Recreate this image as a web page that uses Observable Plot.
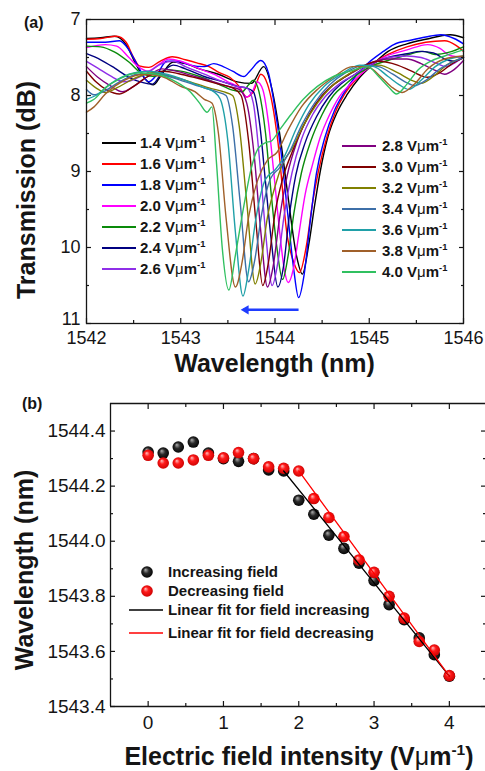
<!DOCTYPE html>
<html><head><meta charset="utf-8">
<script src="https://cdn.jsdelivr.net/npm/d3@7"></script>
<script src="https://cdn.jsdelivr.net/npm/@observablehq/plot@0.6"></script>
<style>
body{margin:0;background:#fff;}
#wrap{width:485px;height:771px;overflow:hidden;background:#fff;}
</style></head><body>
<svg width="0" height="0" style="position:absolute"><defs>
<radialGradient id="gBlack" cx="50%" cy="50%" r="55%" fx="36%" fy="30%">
<stop offset="0%" stop-color="#b0b0b0"/><stop offset="45%" stop-color="#2a2a2a"/><stop offset="100%" stop-color="#000"/></radialGradient>
<radialGradient id="gRed" cx="50%" cy="50%" r="55%" fx="36%" fy="30%">
<stop offset="0%" stop-color="#ffc0c0"/><stop offset="40%" stop-color="#ff1a1a"/><stop offset="100%" stop-color="#c80000"/></radialGradient>
</defs></svg>
<div id="wrap"></div>
<script>
// ---------- Panel (a) data: transmission spectra ----------
const fields = ["1.4","1.6","1.8","2.0","2.2","2.4","2.6","2.8","3.0","3.2","3.4","3.6","3.8","4.0"];
const colors = ["#000000","#ff0000","#0000ff","#ff00ff","#0a8a0a","#000080","#8f2fe8","#800080","#800000","#808000","#3d6fa8","#20a0a8","#a0602a","#30c060"];

const s14 = [[1542.00,7.25],[1542.15,7.24],[1542.30,7.22],[1542.42,7.33],[1542.52,7.58],[1542.62,7.78],[1542.71,7.86],[1542.80,7.72],[1542.92,7.56],[1543.05,7.58],[1543.20,7.65],[1543.40,7.72],[1543.60,7.82],[1543.75,7.84],[1543.88,7.62],[1543.97,7.93],[1544.06,8.59],[1544.13,9.25],[1544.23,10.12],[1544.29,10.35],[1544.36,9.95],[1544.42,9.45],[1544.48,9.0],[1544.56,8.55],[1544.66,8.22],[1544.77,7.98],[1544.90,7.76],[1545.05,7.58],[1545.20,7.42],[1545.40,7.32],[1545.60,7.26],[1545.86,7.2],[1546.00,7.24]];
const s16 = [[1542.00,7.26],[1542.15,7.25],[1542.32,7.22],[1542.42,7.3],[1542.50,7.5],[1542.56,7.61],[1542.66,7.63],[1542.78,7.55],[1542.91,7.49],[1543.05,7.53],[1543.17,7.57],[1543.30,7.62],[1543.41,7.70],[1543.52,7.76],[1543.62,7.88],[1543.70,8.02],[1543.77,7.95],[1543.85,7.72],[1543.92,7.85],[1543.97,8.1],[1544.03,8.6],[1544.13,9.85],[1544.20,10.2],[1544.26,10.33],[1544.33,10.0],[1544.40,9.4],[1544.46,9.0],[1544.55,8.55],[1544.64,8.22],[1544.74,7.98],[1544.88,7.76],[1545.02,7.6],[1545.20,7.46],[1545.40,7.36],[1545.60,7.3],[1545.80,7.28],[1545.92,7.34],[1546.00,7.42]];
const s18 = [[1542.00,7.3],[1542.20,7.3],[1542.35,7.28],[1542.45,7.4],[1542.55,7.62],[1542.66,7.82],[1542.75,7.72],[1542.85,7.55],[1542.98,7.55],[1543.10,7.6],[1543.25,7.62],[1543.35,7.58],[1543.45,7.62],[1543.55,7.68],[1543.67,7.75],[1543.74,7.67],[1543.85,7.54],[1543.93,7.7],[1543.99,8.1],[1544.06,8.7],[1544.13,9.5],[1544.20,10.3],[1544.25,10.66],[1544.31,10.35],[1544.37,9.7],[1544.44,9.02],[1544.53,8.55],[1544.63,8.2],[1544.73,7.97],[1544.86,7.74],[1545.00,7.56],[1545.15,7.42],[1545.26,7.33],[1545.45,7.27],[1545.60,7.23],[1545.76,7.2],[1545.90,7.25],[1546.00,7.32]];
const s20 = [[1542.00,7.37],[1542.20,7.33],[1542.32,7.35],[1542.45,7.5],[1542.55,7.62],[1542.65,7.68],[1542.76,7.6],[1542.87,7.52],[1543.00,7.55],[1543.20,7.65],[1543.35,7.72],[1543.50,7.82],[1543.62,7.9],[1543.70,8.02],[1543.76,7.95],[1543.81,7.82],[1543.87,7.92],[1543.93,8.35],[1543.99,9.05],[1544.05,9.8],[1544.10,10.3],[1544.14,10.46],[1544.20,10.25],[1544.25,9.85],[1544.32,9.3],[1544.40,8.9],[1544.48,8.55],[1544.58,8.25],[1544.68,8.02],[1544.80,7.85],[1544.95,7.68],[1545.15,7.5],[1545.40,7.4],[1545.62,7.33],[1545.75,7.38],[1545.85,7.47],[1546.00,7.5]];
const s22 = [[1542.00,7.35],[1542.15,7.36],[1542.30,7.43],[1542.45,7.56],[1542.60,7.72],[1542.72,7.75],[1542.85,7.66],[1543.00,7.68],[1543.20,7.75],[1543.40,7.85],[1543.55,7.93],[1543.65,7.95],[1543.72,7.86],[1543.77,7.8],[1543.83,7.95],[1543.90,8.5],[1543.96,9.3],[1544.02,10.0],[1544.08,10.42],[1544.14,10.1],[1544.20,9.55],[1544.28,9.02],[1544.38,8.6],[1544.50,8.25],[1544.62,8.0],[1544.75,7.85],[1544.90,7.7],[1545.05,7.6],[1545.25,7.52],[1545.42,7.46],[1545.57,7.42],[1545.70,7.46],[1545.85,7.43],[1546.00,7.36]];
const s24 = [[1542.00,7.45],[1542.15,7.53],[1542.30,7.64],[1542.45,7.76],[1542.60,7.83],[1542.70,7.85],[1542.80,7.7],[1542.92,7.6],[1543.05,7.65],[1543.25,7.75],[1543.45,7.82],[1543.60,7.88],[1543.70,7.9],[1543.77,7.95],[1543.84,8.4],[1543.90,9.15],[1543.96,9.9],[1544.03,10.52],[1544.09,10.25],[1544.15,9.6],[1544.22,9.05],[1544.32,8.62],[1544.44,8.28],[1544.57,8.02],[1544.70,7.85],[1544.85,7.72],[1545.00,7.6],[1545.20,7.5],[1545.40,7.45],[1545.55,7.42],[1545.68,7.44],[1545.80,7.52],[1545.90,7.55],[1546.00,7.5]];
const s26 = [[1542.00,7.55],[1542.12,7.64],[1542.25,7.74],[1542.40,7.82],[1542.52,7.78],[1542.65,7.7],[1542.80,7.58],[1542.92,7.55],[1543.05,7.62],[1543.25,7.72],[1543.45,7.82],[1543.60,7.88],[1543.70,7.9],[1543.77,8.1],[1543.84,8.9],[1543.90,9.8],[1543.97,10.5],[1544.03,10.2],[1544.10,9.55],[1544.18,9.02],[1544.28,8.58],[1544.40,8.25],[1544.53,8.02],[1544.68,7.85],[1544.85,7.72],[1545.00,7.6],[1545.20,7.5],[1545.40,7.48],[1545.55,7.5],[1545.70,7.57],[1545.82,7.62],[1545.92,7.56],[1546.00,7.5]];
const s28 = [[1542.00,7.62],[1542.12,7.76],[1542.25,7.87],[1542.38,7.95],[1542.50,7.88],[1542.65,7.75],[1542.80,7.65],[1542.95,7.68],[1543.15,7.75],[1543.35,7.82],[1543.50,7.88],[1543.62,7.92],[1543.70,8.1],[1543.78,8.8],[1543.85,9.8],[1543.92,10.52],[1543.98,10.25],[1544.05,9.6],[1544.13,9.05],[1544.23,8.62],[1544.36,8.26],[1544.50,8.0],[1544.66,7.82],[1544.82,7.7],[1545.00,7.58],[1545.20,7.52],[1545.40,7.52],[1545.55,7.58],[1545.70,7.67],[1545.80,7.72],[1545.90,7.66],[1546.00,7.54]];
const s30 = [[1542.00,7.68],[1542.10,7.82],[1542.22,7.93],[1542.35,7.98],[1542.50,7.88],[1542.65,7.75],[1542.82,7.68],[1543.00,7.72],[1543.20,7.78],[1543.40,7.85],[1543.55,7.9],[1543.64,8.0],[1543.72,8.6],[1543.80,9.7],[1543.87,10.5],[1543.93,10.2],[1544.00,9.55],[1544.08,9.1],[1544.18,8.75],[1544.30,8.4],[1544.44,8.1],[1544.58,7.9],[1544.75,7.75],[1544.92,7.62],[1545.10,7.55],[1545.30,7.6],[1545.45,7.68],[1545.62,7.76],[1545.75,7.7],[1545.88,7.58],[1546.00,7.5]];
const s32 = [[1542.00,7.8],[1542.10,7.9],[1542.20,7.96],[1542.32,7.9],[1542.50,7.78],[1542.70,7.7],[1542.90,7.75],[1543.10,7.82],[1543.30,7.9],[1543.45,7.95],[1543.55,8.0],[1543.62,8.4],[1543.70,9.4],[1543.79,10.48],[1543.85,10.2],[1543.92,9.6],[1544.00,9.2],[1544.08,8.9],[1544.18,8.7],[1544.30,8.4],[1544.45,8.1],[1544.60,7.88],[1544.78,7.72],[1544.95,7.62],[1545.10,7.6],[1545.30,7.7],[1545.45,7.8],[1545.55,7.84],[1545.68,7.75],[1545.82,7.6],[1546.00,7.5]];
const s34 = [[1542.00,7.92],[1542.08,7.99],[1542.18,7.95],[1542.35,7.82],[1542.55,7.72],[1542.75,7.72],[1543.00,7.8],[1543.20,7.88],[1543.38,7.95],[1543.48,8.0],[1543.55,8.4],[1543.63,9.4],[1543.72,10.45],[1543.78,10.2],[1543.86,9.55],[1543.95,9.1],[1544.05,8.95],[1544.15,8.75],[1544.28,8.4],[1544.42,8.1],[1544.58,7.86],[1544.75,7.7],[1544.95,7.6],[1545.10,7.62],[1545.25,7.72],[1545.38,7.82],[1545.48,7.87],[1545.60,7.8],[1545.75,7.65],[1545.90,7.55],[1546.00,7.5]];
const s36 = [[1542.00,8.05],[1542.10,8.0],[1542.25,7.85],[1542.45,7.72],[1542.65,7.68],[1542.85,7.72],[1543.05,7.8],[1543.25,7.9],[1543.35,7.95],[1543.42,8.05],[1543.50,8.6],[1543.58,9.8],[1543.66,10.64],[1543.72,10.3],[1543.80,9.6],[1543.90,9.1],[1544.00,8.98],[1544.10,8.8],[1544.22,8.45],[1544.36,8.12],[1544.52,7.88],[1544.70,7.72],[1544.90,7.6],[1545.05,7.62],[1545.20,7.75],[1545.32,7.86],[1545.42,7.92],[1545.55,7.8],[1545.70,7.62],[1545.85,7.52],[1546.00,7.48]];
const s38 = [[1542.00,8.22],[1542.08,8.15],[1542.20,7.98],[1542.40,7.8],[1542.60,7.72],[1542.80,7.75],[1543.00,7.88],[1543.15,7.95],[1543.25,8.05],[1543.33,8.1],[1543.40,8.5],[1543.48,9.6],[1543.58,10.52],[1543.65,10.2],[1543.72,9.6],[1543.82,9.1],[1543.92,8.85],[1544.02,8.75],[1544.14,8.45],[1544.28,8.15],[1544.45,7.92],[1544.62,7.76],[1544.82,7.62],[1544.98,7.62],[1545.12,7.75],[1545.25,7.9],[1545.35,7.96],[1545.48,7.85],[1545.62,7.65],[1545.80,7.52],[1546.00,7.48]];
const s40 = [[1542.00,8.1],[1542.08,8.05],[1542.20,7.9],[1542.35,7.78],[1542.55,7.7],[1542.75,7.72],[1542.95,7.82],[1543.10,7.95],[1543.20,8.1],[1543.28,8.22],[1543.33,8.15],[1543.38,8.9],[1543.44,10.0],[1543.51,10.56],[1543.58,10.1],[1543.67,9.45],[1543.75,8.95],[1543.82,8.7],[1543.90,8.62],[1543.96,8.6],[1544.05,8.45],[1544.17,8.25],[1544.30,8.05],[1544.45,7.88],[1544.62,7.75],[1544.80,7.68],[1544.98,7.62],[1545.10,7.75],[1545.20,7.88],[1545.29,7.98],[1545.40,7.85],[1545.52,7.66],[1545.65,7.55],[1545.80,7.48],[1546.00,7.4]];
const spectra = [s14,s16,s18,s20,s22,s24,s26,s28,s30,s32,s34,s36,s38,s40];

const xTicksA = [1542,1543,1544,1545,1546];
const xMinorA = [1542.5,1543.5,1544.5,1545.5];
const yTicksA = [7,8,9,10,11];
const yMinorA = [7.5,8.5,9.5,10.5];
const shiftArrow = [{x1: 1544.25, x2: 1543.66, y: 10.82}];

// ---------- Panel (b) data: resonance wavelength vs field ----------
const fieldB = [0,0.2,0.4,0.6,0.8,1.0,1.2,1.4,1.6,1.8,2.0,2.2,2.4,2.6,2.8,3.0,3.2,3.4,3.6,3.8,4.0];
const incWl = [1544.324,1544.32,1544.342,1544.36,1544.32,1544.30,1544.29,1544.30,1544.259,1544.255,1544.149,1544.098,1544.022,1543.974,1543.92,1543.857,1543.77,1543.715,1543.649,1543.588,1543.51];
const decWl = [1544.312,1544.284,1544.284,1544.295,1544.312,1544.303,1544.322,1544.30,1544.27,1544.265,1544.255,1544.155,1544.086,1544.017,1543.932,1543.887,1543.80,1543.721,1543.636,1543.605,1543.512];
const fitInc = [[1.8,1544.255],[4.0,1543.51]];
const fitDec = [[2.0,1544.255],[4.0,1543.51]];
const xTicksB = [0,1,2,3,4];
const xMinorB = [0.5,1.5,2.5,3.5];
const yTicksB = [1543.4,1543.6,1543.8,1544.0,1544.2,1544.4];
const yMinorB = [1543.5,1543.7,1543.9,1544.1,1544.3];

const FONT = "'Liberation Sans', Arial, Helvetica, sans-serif";
const INK = "#151515";

function tickMarks(axis, anchor, values, size) {
  const f = axis === "x" ? Plot.axisX : Plot.axisY;
  return f(values, {anchor, tickSize: -size, tickFormat: () => "", label: null, stroke: INK, strokeWidth: 1.2});
}
function rich(g, x, y, parts, size, opts = {}) {
  const t = g.append("text").attr("x", x).attr("y", y).attr("font-size", size)
    .attr("font-weight", "bold").attr("fill", INK).attr("text-anchor", opts.anchor || "start");
  if (opts.transform) t.attr("transform", opts.transform);
  if (opts.dy) t.attr("dy", opts.dy);
  let shift = 0;
  for (const p of parts) {
    const ts = t.append("tspan").text(p.t);
    if (p.normal) ts.attr("font-weight", "normal");
    if (p.sup) { ts.attr("font-size", size * 0.62).attr("dy", -size * 0.42); shift += size * 0.42; }
    else if (shift) { ts.attr("dy", shift); shift = 0; }
  }
  return t;
}

// ---------- Panel (a) ----------
const rowsA = spectra.flatMap((s, i) => s.map(([w, t]) => ({field: fields[i], w, t})));
const blue = "#1f3cff";
const chartA = Plot.plot({
  width: 485, height: 380,
  marginTop: 19, marginLeft: 86, marginRight: 22, marginBottom: 57,
  style: {fontFamily: FONT, color: INK, background: "white", overflow: "visible"},
  x: {domain: [1542, 1546]},
  y: {domain: [7, 11], reverse: true},
  color: {domain: fields, range: colors},
  marks: [
    Plot.line(rowsA, {x: "w", y: "t", z: "field", stroke: "field", curve: "monotone-x", strokeWidth: 1.4}),
    Plot.link(shiftArrow, {x1: "x1", x2: "x2", y1: "y", y2: "y", stroke: blue, strokeWidth: 2.6}),
    Plot.dot(shiftArrow, {x: "x2", y: "y", symbol: "triangle", rotate: -90, r: 3.4, fill: blue, dx: 3}),
    Plot.frame({stroke: INK, strokeWidth: 1.3}),
    Plot.axisX(xTicksA, {anchor: "bottom", tickSize: 0, tickPadding: 8, label: null, fontSize: 18, tickFormat: d => String(d)}),
    Plot.axisY(yTicksA.slice(0, 4), {anchor: "left", tickSize: 0, tickPadding: 6, label: null, fontSize: 18, tickFormat: d => String(d)}),
    Plot.axisY(yTicksA.slice(4), {anchor: "left", tickSize: 0, tickPadding: 6, label: null, fontSize: 18, dy: -4, tickFormat: d => String(d)}),
    tickMarks("x", "bottom", xTicksA, 5), tickMarks("x", "bottom", xMinorA, 3),
    tickMarks("x", "top", xTicksA, 5), tickMarks("x", "top", xMinorA, 3),
    tickMarks("y", "left", yTicksA, 5), tickMarks("y", "left", yMinorA, 3),
    tickMarks("y", "right", yTicksA, 5), tickMarks("y", "right", yMinorA, 3)
  ]
});

// ---------- Panel (b) ----------
const incRows = fieldB.map((f, i) => ({f, w: incWl[i]}));
const decRows = fieldB.map((f, i) => ({f, w: decWl[i]}));
const chartB = Plot.plot({
  width: 485, height: 391,
  marginTop: 23, marginLeft: 110, marginRight: 0, marginBottom: 65,
  style: {fontFamily: FONT, color: INK, background: "white", overflow: "visible"},
  x: {domain: [-0.5, 4.48]},
  y: {domain: [1543.4, 1544.5]},
  marks: [
    Plot.ruleX([-0.5], {stroke: INK, strokeWidth: 1.3}),
    Plot.ruleY([1543.4, 1544.5], {stroke: INK, strokeWidth: 1.3}),
    Plot.dot(incRows, {x: "f", y: "w", r: 5.8, fill: "url(#gBlack)"}),
    Plot.dot(decRows, {x: "f", y: "w", r: 5.8, fill: "url(#gRed)"}),
    Plot.line(fitInc, {x: d => d[0], y: d => d[1], stroke: "#000", strokeWidth: 1.3}),
    Plot.line(fitDec, {x: d => d[0], y: d => d[1], stroke: "#ff0000", strokeWidth: 1.3}),
    Plot.axisX(xTicksB, {anchor: "bottom", tickSize: 0, tickPadding: 9, label: null, fontSize: 19, tickFormat: d => String(d)}),
    Plot.axisY(yTicksB, {anchor: "left", tickSize: 0, tickPadding: 5, label: null, fontSize: 19, tickFormat: d => d.toFixed(1)}),
    tickMarks("x", "bottom", xTicksB, 5), tickMarks("x", "bottom", xMinorB, 3),
    tickMarks("x", "top", xTicksB, 5), tickMarks("x", "top", xMinorB, 3),
    tickMarks("y", "left", yTicksB, 5), tickMarks("y", "left", yMinorB, 3),
    tickMarks("y", "right", yTicksB, 5), tickMarks("y", "right", yMinorB, 3)
  ]
});

const wrap = document.getElementById("wrap");
wrap.appendChild(chartA);
wrap.appendChild(chartB);

// ---------- Annotations, titles, legends ----------
const ga = d3.select(chartA).append("g");
rich(ga, 24, 28, [{t: "(a)"}], 16);
rich(ga, 274.5, 372, [{t: "Wavelength (nm)"}], 25, {anchor: "middle"});
rich(ga, 0, 0, [{t: "Transmission (dB)"}], 25, {anchor: "middle", transform: "translate(35,190) rotate(-90)"});
const legA = [[102, 140, 143], [342, 382, 146]];
fields.forEach((f, i) => {
  const col = i < 7 ? 0 : 1, row = i % 7;
  const [lx, tx, y0] = legA[col];
  const y = y0 + row * 21;
  ga.append("line").attr("x1", lx).attr("x2", lx + 34).attr("y1", y).attr("y2", y)
    .attr("stroke", colors[i]).attr("stroke-width", 2);
  rich(ga, tx, y, [{t: f + " V"}, {t: "μ", normal: true}, {t: "m"}, {t: "-1", sup: true}], 15, {dy: "0.36em"});
});

const gb = d3.select(chartB).append("g");
rich(gb, 22, 29, [{t: "(b)"}], 16);
rich(gb, 0, 0, [{t: "Wavelength (nm)"}], 25, {anchor: "middle", transform: "translate(33,190) rotate(-90)"});
rich(gb, 299, 385, [{t: "Electric field intensity (V"}, {t: "μ", normal: true}, {t: "m"}, {t: "-1", sup: true}, {t: ")"}], 25, {anchor: "middle"});
gb.append("circle").attr("cx", 147).attr("cy", 192).attr("r", 5.8).attr("fill", "url(#gBlack)");
gb.append("circle").attr("cx", 147).attr("cy", 211).attr("r", 5.8).attr("fill", "url(#gRed)");
gb.append("line").attr("x1", 129).attr("x2", 163).attr("y1", 230).attr("y2", 230).attr("stroke", "#000").attr("stroke-width", 1.3);
gb.append("line").attr("x1", 129).attr("x2", 163).attr("y1", 253).attr("y2", 253).attr("stroke", "#ff0000").attr("stroke-width", 1.3);
rich(gb, 168, 192, [{t: "Increasing field"}], 15, {dy: "0.36em"});
rich(gb, 168, 211, [{t: "Decreasing field"}], 15, {dy: "0.36em"});
rich(gb, 168, 230, [{t: "Linear fit for field increasing"}], 15, {dy: "0.36em"});
rich(gb, 168, 253, [{t: "Linear fit for field decreasing"}], 15, {dy: "0.36em"});
</script>
</body></html>
